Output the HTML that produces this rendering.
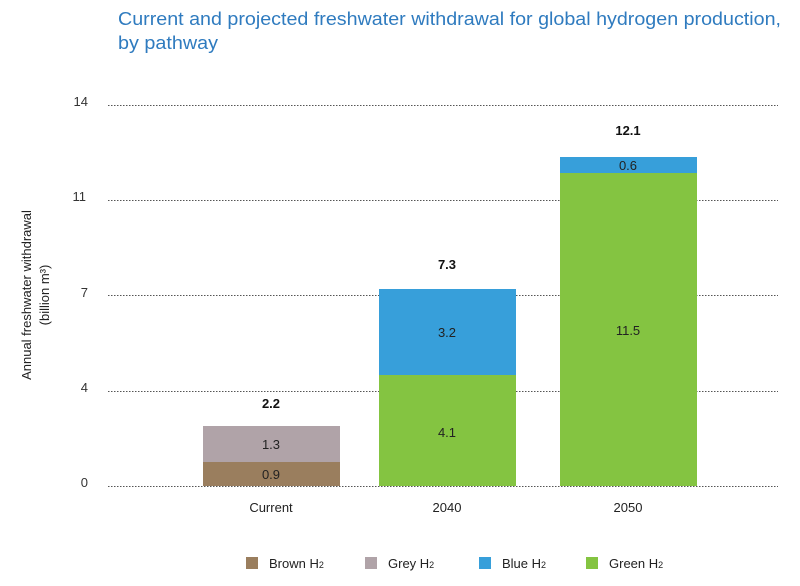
<!DOCTYPE html>
<html><head><meta charset="utf-8"><style>
html,body{margin:0;padding:0;background:#fff;}
svg{display:block;font-family:"Liberation Sans",sans-serif;}
</style></head><body>
<svg width="800" height="586" viewBox="0 0 800 586" xmlns="http://www.w3.org/2000/svg">
<text x="118" y="25" font-size="18" fill="#2F7BBF" textLength="663" lengthAdjust="spacingAndGlyphs">Current and projected freshwater withdrawal for global hydrogen production,</text>
<text x="118" y="49" font-size="18" fill="#2F7BBF" textLength="100" lengthAdjust="spacingAndGlyphs">by pathway</text>
<g stroke="#555" stroke-width="1" stroke-dasharray="1.5,1.5">
<line x1="108" y1="105.5" x2="778" y2="105.5"/>
<line x1="108" y1="200.5" x2="778" y2="200.5"/>
<line x1="108" y1="295.5" x2="778" y2="295.5"/>
<line x1="108" y1="391.5" x2="778" y2="391.5"/>
</g>
<g font-size="13" fill="#333" text-anchor="end">
<text x="88" y="106">14</text>
<text x="86" y="201">11</text>
<text x="88" y="297">7</text>
<text x="88" y="392">4</text>
<text x="88" y="487">0</text>
</g>
<text transform="translate(31,295) rotate(-90)" font-size="13" fill="#222" text-anchor="middle">Annual freshwater withdrawal</text>
<text transform="translate(49,295) rotate(-90)" font-size="13" fill="#222" text-anchor="middle">(billion m³)</text>
<rect x="203" y="462" width="137" height="24" fill="#9A7E5E"/>
<rect x="203" y="426" width="137" height="36" fill="#B0A3A8"/>
<rect x="379" y="375" width="137" height="111" fill="#84C441"/>
<rect x="379" y="289" width="137" height="86" fill="#379FDA"/>
<rect x="560" y="173" width="137" height="313" fill="#84C441"/>
<rect x="560" y="157" width="137" height="16" fill="#379FDA"/>
<line x1="108" y1="486.5" x2="778" y2="486.5" stroke="#555" stroke-dasharray="1.5,1.5"/>
<g font-size="13" fill="#222" text-anchor="middle">
<text x="271" y="479">0.9</text>
<text x="271" y="449">1.3</text>
<text x="447" y="437">4.1</text>
<text x="447" y="337">3.2</text>
<text x="628" y="335">11.5</text>
<text x="628" y="170">0.6</text>
<text x="271" y="512">Current</text>
<text x="447" y="512">2040</text>
<text x="628" y="512">2050</text>
</g>
<g font-size="13" font-weight="bold" fill="#111" text-anchor="middle">
<text x="271" y="408">2.2</text>
<text x="447" y="269">7.3</text>
<text x="628" y="135">12.1</text>
</g>
<rect x="246" y="557" width="12" height="12" fill="#9A7E5E"/>
<rect x="365" y="557" width="12" height="12" fill="#B0A3A8"/>
<rect x="479" y="557" width="12" height="12" fill="#379FDA"/>
<rect x="586" y="557" width="12" height="12" fill="#84C441"/>
<g font-size="13" fill="#222">
<text x="269" y="568">Brown H<tspan font-size="9">2</tspan></text>
<text x="388" y="568">Grey H<tspan font-size="9">2</tspan></text>
<text x="502" y="568">Blue H<tspan font-size="9">2</tspan></text>
<text x="609" y="568">Green H<tspan font-size="9">2</tspan></text>
</g>
</svg>
</body></html>
